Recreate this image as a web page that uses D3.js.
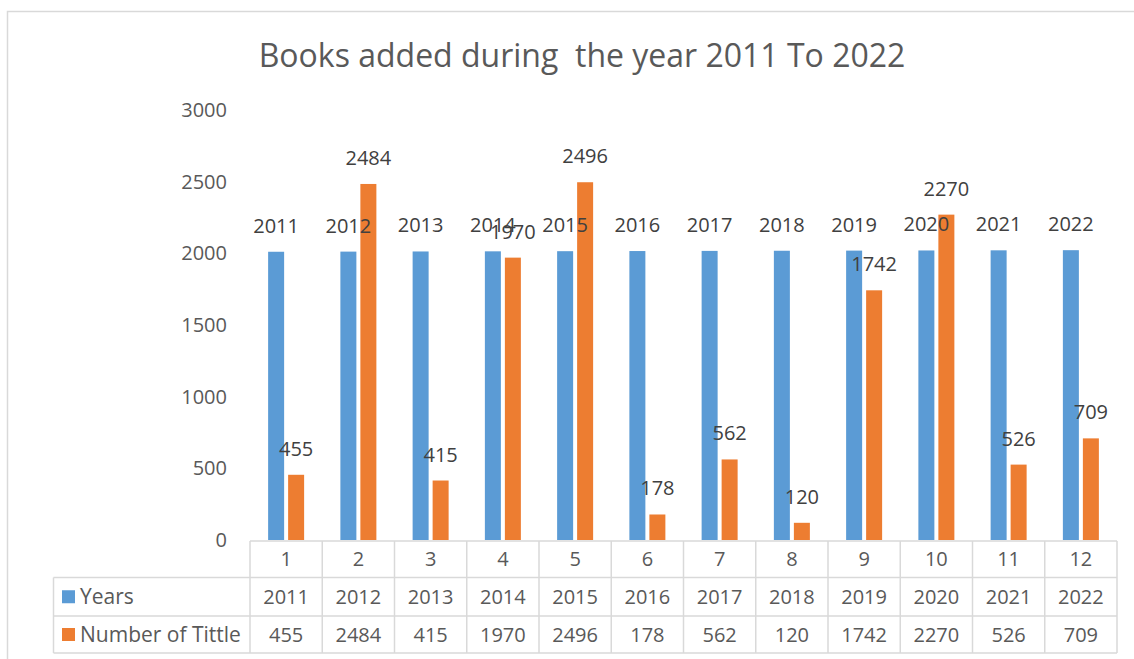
<!DOCTYPE html>
<html>
<head>
<meta charset="utf-8">
<script src="https://cdn.jsdelivr.net/npm/d3@7"></script>
<style>
  body { margin: 0; background: #fff; }
  svg { display: block; font-family: "Open Sans", sans-serif; }
</style>
</head>
<body>
<svg width="1134" height="659"></svg>
<script>
const categories = ['1', '2', '3', '4', '5', '6', '7', '8', '9', '10', '11', '12'];
const years = [2011, 2012, 2013, 2014, 2015, 2016, 2017, 2018, 2019, 2020, 2021, 2022];
const titles = [455, 2484, 415, 1970, 2496, 178, 562, 120, 1742, 2270, 526, 709];
const seriesNames = ['Years', 'Number of Tittle'];
const yTicks = [0, 500, 1000, 1500, 2000, 2500, 3000];
const colors = ['#5B9BD5', '#ED7D31'];

const svg = d3.select('svg');
const plot = { left: 250, right: 1117, top: 110, bottom: 540 };
const rows = [541, 577.5, 616, 653];
const legendLeft = 53.5;
const textColor = '#595959';
const gridColor = '#d9d9d9';

// outer frame
svg.append('rect')
    .attr('x', 7.5).attr('y', 11.5)
    .attr('width', 1140).attr('height', 660)
    .attr('fill', 'none')
    .attr('stroke', gridColor)
    .attr('stroke-width', 1.5);

svg.append('text')
    .attr('x', 582).attr('y', 67)
    .attr('text-anchor', 'middle')
    .attr('fill', textColor)
    .attr('font-size', 32)
    .attr('xml:space', 'preserve')
    .text('Books added during  the year 2011 To 2022');

const x = d3.scaleBand().domain(categories).range([plot.left, plot.right]);
const x1 = d3.scaleBand().domain(seriesNames).range([0, 36]).paddingInner(0.2);
const offset = (x.bandwidth() - 36) / 2;
const y = d3.scaleLinear().domain([0, 3000]).range([plot.bottom, plot.top]);

// y axis labels, no line
const axisY = d3.axisLeft(y).tickValues(yTicks).tickFormat(d3.format('d')).tickSize(0).tickPadding(0);
const gy = svg.append('g').attr('transform', 'translate(227,0)').call(axisY);
gy.select('.domain').remove();
gy.selectAll('text').attr('fill', textColor).attr('font-size', 20).attr('font-family', 'Open Sans');

const data = categories.map((c, i) => ({ cat: c, values: [years[i], titles[i]] }));

const groups = svg.append('g').selectAll('g')
    .data(data)
    .join('g')
    .attr('transform', (d) => `translate(${x(d.cat) + offset},0)`);

groups.selectAll('rect')
    .data((d) => d.values.map((v, k) => ({ s: seriesNames[k], v, k })))
    .join('rect')
    .attr('x', (d) => x1(d.s))
    .attr('width', x1.bandwidth())
    .attr('y', (d) => y(d.v))
    .attr('height', (d) => y(0) - y(d.v))
    .attr('fill', (d) => colors[d.k]);

groups.selectAll('text')
    .data((d) => d.values.map((v, k) => ({ s: seriesNames[k], v, k })))
    .join('text')
    .attr('x', (d) => x1(d.s) + x1.bandwidth() / 2)
    .attr('y', (d) => y(d.v) - 19)
    .attr('text-anchor', 'middle')
    .attr('fill', '#404040')
    .attr('font-size', 20)
    .text((d) => d.v);

// data table
const table = svg.append('g').attr('stroke', gridColor).attr('stroke-width', 1.5);
table.append('line').attr('x1', plot.left).attr('x2', plot.right).attr('y1', rows[0]).attr('y2', rows[0]);
[rows[1], rows[2], rows[3]].forEach((ry) => {
    table.append('line').attr('x1', legendLeft).attr('x2', plot.right).attr('y1', ry).attr('y2', ry);
});
table.append('line').attr('x1', legendLeft).attr('x2', legendLeft).attr('y1', rows[1]).attr('y2', rows[3]);
categories.concat(['end']).forEach((c, i) => {
    const xx = i < categories.length ? x(c) : plot.right;
    table.append('line').attr('x1', xx).attr('x2', xx).attr('y1', rows[0]).attr('y2', rows[3]);
});

const rowMid = (r) => (rows[r] + rows[r + 1]) / 2;
const cellRows = [categories, years, titles];
cellRows.forEach((vals, r) => {
    svg.append('g').selectAll('text')
        .data(vals)
        .join('text')
        .attr('x', (d, i) => x(categories[i]) + x.bandwidth() / 2)
        .attr('y', rowMid(r))
        .attr('dy', '0.35em')
        .attr('text-anchor', 'middle')
        .attr('fill', textColor)
        .attr('font-size', 20)
        .text((d) => d);
});

seriesNames.forEach((name, k) => {
    const cy = rowMid(k + 1);
    svg.append('rect')
        .attr('x', 62).attr('y', cy - 6.5)
        .attr('width', 13).attr('height', 13)
        .attr('fill', colors[k]);
    svg.append('text')
        .attr('x', 80).attr('y', cy)
        .attr('dy', '0.35em')
        .attr('fill', textColor)
        .attr('font-size', 21)
        .text(name);
});
</script>
</body>
</html>
